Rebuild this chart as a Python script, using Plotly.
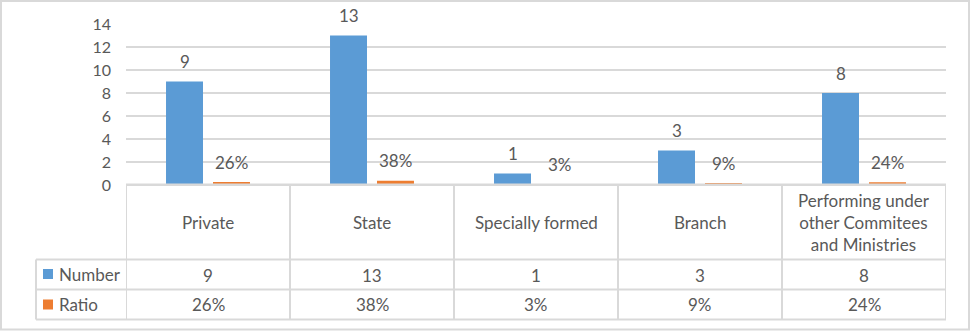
import plotly.graph_objects as go

categories = ["Private", "State", "Specially formed", "Branch",
              "Performing under other Commitees and Ministries"]
category_labels = ["Private", "State", "Specially formed", "Branch",
                   "Performing under<br>other Commitees<br>and Ministries"]
number_values = [9, 13, 1, 3, 8]
ratio_values = [0.26, 0.38, 0.03, 0.09, 0.24]
series_names = ["Number", "Ratio"]
y_ticks = [0, 2, 4, 6, 8, 10, 12, 14]

BLUE = "#5B9BD5"
ORANGE = "#ED7D31"
GRID = "#D9D9D9"
TXT = "#595959"
FONT = "Lato"
FS = 17

W, H = 970, 331
L, R, T, B = 126, 24, 24, 146
PW = W - L - R
PH = H - T - B


def px_x(p):
    return (p - L) / PW


def px_y(p):
    return (H - B - p) / PH


fig = go.Figure()
fig.add_trace(go.Bar(x=categories, y=number_values, name=series_names[0],
                     marker=dict(color=BLUE, line=dict(width=0)), hoverinfo="skip"))
fig.add_trace(go.Bar(x=categories, y=ratio_values, name=series_names[1],
                     marker=dict(color=ORANGE, line=dict(width=0)), hoverinfo="skip"))

annotations = []
for c, v in zip(categories, number_values):
    annotations.append(dict(x=c, y=v, xref="x", yref="y", text=str(v), showarrow=False,
                            xshift=-23.5, yshift=20, yanchor="middle",
                            font=dict(family=FONT, size=FS, color=TXT)))
for c, v in zip(categories, ratio_values):
    annotations.append(dict(x=c, y=v, xref="x", yref="y", text=f"{round(v * 100)}%",
                            showarrow=False, xshift=23.5, yshift=20, yanchor="middle",
                            font=dict(family=FONT, size=FS, color=TXT)))

# data table
for c, lab in zip(categories, category_labels):
    annotations.append(dict(x=c, y=px_y(222.5), xref="x", yref="paper", text=lab,
                            showarrow=False, yanchor="middle",
                            font=dict(family=FONT, size=FS, color=TXT)))
for c, v in zip(categories, number_values):
    annotations.append(dict(x=c, y=px_y(275), xref="x", yref="paper", text=str(v),
                            showarrow=False, yanchor="middle",
                            font=dict(family=FONT, size=FS, color=TXT)))
for c, v in zip(categories, ratio_values):
    annotations.append(dict(x=c, y=px_y(304.5), xref="x", yref="paper",
                            text=f"{round(v * 100)}%", showarrow=False, yanchor="middle",
                            font=dict(family=FONT, size=FS, color=TXT)))
for name, yc in zip(series_names, [274.5, 304.5]):
    annotations.append(dict(x=px_x(57), y=px_y(yc), xref="paper", yref="paper", text=name,
                            showarrow=False, xanchor="left", yanchor="middle",
                            font=dict(family=FONT, size=FS, color=TXT)))

shapes = []
line = dict(color=GRID, width=2)
# outer chart border
shapes.append(dict(type="rect", xref="paper", yref="paper",
                   x0=px_x(1), x1=px_x(969), y0=px_y(1), y1=px_y(329.5),
                   line=line, layer="below"))
# table horizontal lines (top one doubles as the category axis line)
shapes.append(dict(type="line", xref="x", yref="paper", x0=-0.5, x1=4.5,
                   y0=px_y(184.8), y1=px_y(184.8), line=dict(color=GRID, width=2.6)))
for yy in [259.5, 289.5, 319.5]:
    shapes.append(dict(type="line", xref="paper", yref="paper", x0=px_x(36), x1=1,
                       y0=px_y(yy), y1=px_y(yy), line=line))
# table vertical lines
for i in range(len(categories) + 1):
    shapes.append(dict(type="line", xref="x", yref="paper", x0=i - 0.5, x1=i - 0.5,
                       y0=px_y(185), y1=px_y(319.5), line=line))
shapes.append(dict(type="line", xref="paper", yref="paper", x0=px_x(36), x1=px_x(36),
                   y0=px_y(259.5), y1=px_y(319.5), line=line))
# legend keys
for col, yc in zip([BLUE, ORANGE], [274, 304.5]):
    shapes.append(dict(type="rect", xref="paper", yref="paper",
                       x0=px_x(43), x1=px_x(53), y0=px_y(yc - 5), y1=px_y(yc + 5),
                       fillcolor=col, line=dict(width=0)))

fig.update_layout(
    width=W, height=H,
    margin=dict(l=L, r=R, t=T, b=B, pad=0),
    paper_bgcolor="white", plot_bgcolor="white",
    barmode="group", bargap=0.427, bargroupgap=0.213,
    showlegend=False,
    annotations=annotations, shapes=shapes,
    xaxis=dict(showticklabels=False, showgrid=False, zeroline=False, showline=False,
               range=[-0.5, 4.5], fixedrange=True),
    yaxis=dict(range=[0, 14], tickvals=y_ticks, showgrid=True, gridcolor=GRID,
               gridwidth=2, zeroline=False, showline=False, ticks="",
               ticklabelstandoff=14,
               tickfont=dict(family=FONT, size=16, color=TXT), fixedrange=True),
)

fig.write_html("out.html")
